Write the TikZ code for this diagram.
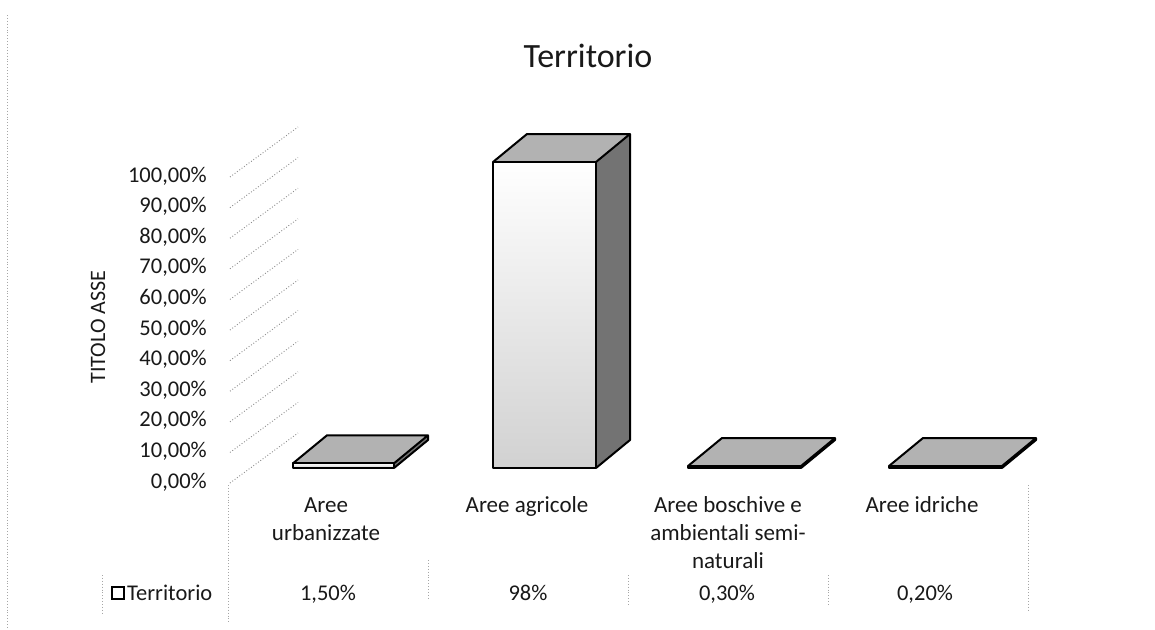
\documentclass[tikz,border=0pt]{standalone}
\usepackage{fontspec}
\setmainfont{Carlito}
\tikzset{
  ticklbl/.style={anchor=base east, inner sep=0pt, font=\fontsize{22.5}{27}\selectfont, text=black!90},
  catlbl/.style={anchor=north, align=center, inner sep=0pt, font=\fontsize{23}{28}\selectfont, text=black!90},
  vallbl/.style={anchor=base, inner sep=0pt, font=\fontsize{22.5}{27}\selectfont, text=black!90},
  gridln/.style={black!45, dotted, line width=0.9pt},
  tblln/.style={black!35, dotted, line width=0.9pt},
  edgeln/.style={line width=2pt, line join=round, black},
}
\newcommand\colbox[3]{%
  \begin{scope}[shift={(#1,468)}]
    \shade[top color=white, bottom color=black!18] (0,0) rectangle (#2,-#3);
    \fill[black!30] (0,-#3) -- (34,-#3-28) -- (#2+34,-#3-28) -- (#2,-#3) -- cycle;
    \fill[black!55] (#2,0) -- (#2,-#3) -- (#2+34,-#3-28) -- (#2+34,-28) -- cycle;
    \draw[edgeln] (0,0) rectangle (#2,-#3);
    \draw[edgeln] (0,-#3) -- (34,-#3-28) -- (#2+34,-#3-28) -- (#2,-#3);
    \draw[edgeln] (#2+34,-#3-28) -- (#2+34,-28) -- (#2,0);
  \end{scope}}
\begin{document}
\begin{tikzpicture}[x=1pt, y=-1pt]
  \useasboundingbox (0,0) rectangle (1155,629);
  \fill[white] (0,0) rectangle (1155,629);
  % chart border (left)
  \draw[tblln] (7,15) -- (7,629);
  % title
  \node[anchor=base, inner sep=0pt, font=\fontsize{34}{40}\selectfont, text=black!90] (title) at (588,67) {Territorio};
  % axis title
  \node[rotate=90, inner sep=0pt, font=\fontsize{22}{26}\selectfont, text=black!90] (axtitle) at (98,327) {TITOLO ASSE};
  % tick labels and gridlines
  \foreach \v [count=\i from 0] in {0,10,...,100} {
    \pgfmathsetmacro\yy{481-3.06*\v}
    \node[ticklbl] (t\i) at (207,\yy+7) {\v,00\%};
    \draw[gridln] (230,\yy+2) -- (298,\yy-48);
  }
  % columns
  \colbox{293}{101}{4.7}
  \colbox{493}{103}{306}
  \colbox{688}{113}{2}
  \colbox{889}{113}{2}
  % table lines
  \draw[tblln] (228,485) -- (228,622);
  \draw[tblln] (1028,485) -- (1028,612);
  \draw[tblln] (102,575) -- (102,615);
  \draw[tblln] (428,560) -- (428,600);
  \draw[tblln] (628,575) -- (628,605);
  \draw[tblln] (828,575) -- (828,605);
  % category labels
  \node[catlbl] (c1) at (326,498) {Aree\\urbanizzate};
  \node[catlbl] (c2) at (527,496) {Aree agricole};
  \node[catlbl] (c3) at (728,496) {Aree boschive e\\ambientali semi-\\naturali};
  \node[catlbl] (c4) at (922,496) {Aree idriche};
  % legend + values
  \draw[line width=1.5pt] (112,587) rectangle (124,599);
  \node[anchor=base west, inner sep=0pt, font=\fontsize{22.5}{27}\selectfont, text=black!90] (leg) at (127,600) {Territorio};
  \node[vallbl] (v1) at (328,600) {1,50\%};
  \node[vallbl] (v2) at (528,600) {98\%};
  \node[vallbl] (v3) at (727,600) {0,30\%};
  \node[vallbl] (v4) at (925,600) {0,20\%};
\end{tikzpicture}
\end{document}
